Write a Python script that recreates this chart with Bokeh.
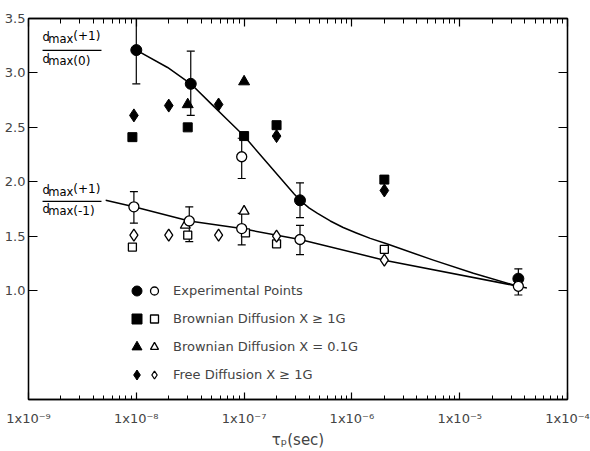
from bokeh.plotting import figure
from bokeh.models import (ColumnDataSource, FixedTicker, LogAxis, LinearAxis,
                          Range1d, Whisker, TeeHead, Legend, LegendItem, Label)
from bokeh.embed import file_html
from bokeh.resources import INLINE

FONT = "DejaVu Sans"

# ---- experimental points: d_max(+1)/d_max(0) (filled) ----
exp_hi_tau = [1.0e-8, 3.2e-8, 3.3e-7, 3.5e-5]
exp_hi_ratio = [3.21, 2.90, 1.83, 1.11]
exp_hi_upper = [3.50, 3.20, 1.99, 1.20]
exp_hi_lower = [2.90, 2.61, 1.67, 1.03]

# ---- experimental points drawn open ----
exp_lo_tau = [9.5e-9, 3.1e-8, 9.5e-8, 9.5e-8, 3.3e-7, 3.5e-5]
exp_lo_ratio = [1.77, 1.64, 2.23, 1.57, 1.47, 1.04]
exp_lo_upper = [1.91, 1.77, 2.40, 1.71, 1.60, 1.11]
exp_lo_lower = [1.62, 1.45, 2.03, 1.42, 1.33, 0.96]

# ---- Brownian diffusion X >= 1G ----
bd1_hi_tau = [9.2e-9, 3.0e-8, 1.0e-7, 2.0e-7, 2.0e-6]
bd1_hi_ratio = [2.41, 2.50, 2.42, 2.52, 2.02]
bd1_lo_tau = [9.2e-9, 3.0e-8, 1.03e-7, 2.0e-7, 2.0e-6]
bd1_lo_ratio = [1.40, 1.51, 1.53, 1.43, 1.38]

# ---- Brownian diffusion X = 0.1G ----
bd01_hi_tau = [3.0e-8, 1.0e-7]
bd01_hi_ratio = [2.71, 2.92]
bd01_lo_tau = [2.85e-8, 1.0e-7]
bd01_lo_ratio = [1.60, 1.73]

# ---- free diffusion X >= 1G ----
free_hi_tau = [9.5e-9, 2.0e-8, 5.8e-8, 2.0e-7, 2.0e-6]
free_hi_ratio = [2.61, 2.70, 2.71, 2.42, 1.92]
free_lo_tau = [9.5e-9, 2.0e-8, 5.8e-8, 2.0e-7, 2.0e-6]
free_lo_ratio = [1.51, 1.51, 1.51, 1.50, 1.28]

# ---- hand-drawn curves through the points ----
fit_hi_tau = [1.0e-8, 1.95e-8, 3.2e-8, 4.9e-8, 7.0e-8, 1.0e-7, 1.65e-7, 2.9e-7,
              3.3e-7, 4.0e-7, 4.8e-7, 6.3e-7, 8.3e-7, 1.1e-6, 1.48e-6, 2.1e-6,
              5.7e-6, 1.34e-5, 3.2e-5]
fit_hi_ratio = [3.21, 3.05, 2.90, 2.72, 2.57, 2.42, 2.17, 1.89,
                1.83, 1.76, 1.71, 1.64, 1.58, 1.53, 1.48, 1.43,
                1.28, 1.16, 1.05]
fit_lo_tau = [5.2e-9, 9.5e-9, 3.1e-8, 9.5e-8, 3.3e-7, 2.0e-6, 4.2e-5]
fit_lo_ratio = [1.83, 1.77, 1.64, 1.57, 1.47, 1.28, 1.025]

# ---- axes ----
x_decades = [1e-9, 1e-8, 1e-7, 1e-6, 1e-5, 1e-4]
x_tick_labels = ["1x10⁻⁹", "1x10⁻⁸", "1x10⁻⁷", "1x10⁻⁶", "1x10⁻⁵", "1x10⁻⁴"]
y_ticks = [1.0, 1.5, 2.0, 2.5, 3.0, 3.5]
y_tick_labels = ["1.0", "1.5", "2.0", "2.5", "3.0", "3.5"]

legend_labels = ["Experimental Points", "Brownian Diffusion X ≥ 1G",
                 "Brownian Diffusion X = 0.1G", "Free Diffusion X ≥ 1G"]

p = figure(width=590, height=451, x_axis_type="log",
           x_range=Range1d(1e-9, 1e-4), y_range=Range1d(0.0, 3.5),
           output_backend="svg", toolbar_location=None,
           min_border_left=28, min_border_right=23,
           min_border_top=18, min_border_bottom=51)
p.grid.visible = False
p.outline_line_color = "black"
p.outline_line_width = 1.3
p.background_fill_color = "white"
p.border_fill_color = "white"

minor_x = [d * k for d in x_decades[:-1] for k in range(2, 10)]
x_ticker = FixedTicker(ticks=x_decades, minor_ticks=minor_x)
y_ticker = FixedTicker(ticks=y_ticks)

xa = p.xaxis[0]
xa.ticker = x_ticker
xa.major_label_overrides = dict(zip(x_decades, x_tick_labels))
xa.major_tick_in, xa.major_tick_out = 7, 0
xa.minor_tick_in, xa.minor_tick_out = 4, 0
xa.major_label_standoff = 11
xa.major_label_text_font = FONT
xa.major_label_text_font_size = "13px"
xa.axis_label = "τₚ(sec)"
xa.axis_label_text_font = FONT
xa.axis_label_text_font_style = "normal"
xa.axis_label_text_font_size = "15px"
xa.axis_label_standoff = 2

ya = p.yaxis[0]
ya.ticker = y_ticker
ya.major_label_overrides = dict(zip(y_ticks, y_tick_labels))
ya.major_tick_in, ya.major_tick_out = 9, 0
ya.minor_tick_line_color = None
ya.major_label_standoff = 3
ya.major_label_text_font = FONT
ya.major_label_text_font_size = "13px"

# tick marks only on the top and right edges
top = LogAxis(ticker=x_ticker, major_label_text_font_size="2px",
              major_label_text_alpha=0,
              major_tick_in=8, major_tick_out=0, minor_tick_in=5, minor_tick_out=0,
              major_label_standoff=0)
right = LinearAxis(ticker=y_ticker, major_label_text_font_size="2px",
                   major_label_text_alpha=0,
                   major_tick_in=9, major_tick_out=0, minor_tick_line_color=None,
                   major_label_standoff=0)
p.add_layout(top, "above")
p.add_layout(right, "right")

for ax in [xa, ya, top, right]:
    ax.axis_line_width = 1.3
    ax.major_tick_line_width = 1.2
    ax.minor_tick_line_width = 1.0
    ax.axis_line_color = "black"

# ---- error bars ----
for tau, lo, hi in [(exp_hi_tau, exp_hi_lower, exp_hi_upper),
                    (exp_lo_tau, exp_lo_lower, exp_lo_upper)]:
    src = ColumnDataSource(dict(tau=tau, lower=lo, upper=hi))
    p.add_layout(Whisker(base="tau", lower="lower", upper="upper", source=src,
                         dimension="height", line_width=1.2, line_color="black",
                         upper_head=TeeHead(size=8, line_width=1.2),
                         lower_head=TeeHead(size=8, line_width=1.2)))

# ---- curves ----
p.line(fit_hi_tau, fit_hi_ratio, line_color="black", line_width=1.5,
       line_join="round")
p.line(fit_lo_tau, fit_lo_ratio, line_color="black", line_width=1.5,
       line_join="round")

# ---- markers ----
def filled(tau, ratio, marker, size):
    return p.scatter(tau, ratio, marker=marker, size=size,
                     fill_color="black", line_color="black", line_width=1)

def hollow(tau, ratio, marker, size):
    return p.scatter(tau, ratio, marker=marker, size=size,
                     fill_color="white", line_color="black", line_width=1.3)

r_bd1_f = filled(bd1_hi_tau, bd1_hi_ratio, "square", 9)
r_free_f = filled(free_hi_tau, free_hi_ratio, "diamond", 13)
r_bd01_f = filled(bd01_hi_tau, bd01_hi_ratio, "triangle", 11)
r_exp_f = filled(exp_hi_tau, exp_hi_ratio, "circle", 11)

r_bd1_o = hollow(bd1_lo_tau, bd1_lo_ratio, "square", 8)
r_free_o = hollow(free_lo_tau, free_lo_ratio, "diamond", 12)
r_bd01_o = hollow(bd01_lo_tau, bd01_lo_ratio, "triangle", 10)
r_exp_o = hollow(exp_lo_tau, exp_lo_ratio, "circle", 10)

# ---- legend: a column of filled symbols, then open symbols with text ----
filled_renderers = [r_exp_f, r_bd1_f, r_bd01_f, r_free_f]
open_renderers = [r_exp_o, r_bd1_o, r_bd01_o, r_free_o]

common = dict(padding=0, margin=0, spacing=3, glyph_height=25,
              border_line_color=None, background_fill_alpha=0,
              label_text_font=FONT, label_text_font_size="13px")
leg_a = Legend(items=[LegendItem(label="·", renderers=[r]) for r in filled_renderers],
               location=(96, 12), glyph_width=25, label_standoff=2, label_width=4,
               label_text_alpha=0, **common)
leg_b = Legend(items=[LegendItem(label=t, renderers=[r])
                      for t, r in zip(legend_labels, open_renderers)],
               location=(116, 12), glyph_width=20, label_standoff=9, **common)
p.add_layout(leg_a)
p.add_layout(leg_b)

# ---- ratio labels written as stacked fractions ----
def ratio_label(x0, y_num, y_den, num_tail, den_tail):
    pieces = [("d", 1.0, 0.0, "11.5px"), ("max", 1.13, -0.02, "11.5px")]
    for y, tail, dy_tail in [(y_num, num_tail, 0.01), (y_den, den_tail, -0.02)]:
        for txt, fx, dy, fs in pieces:
            p.add_layout(Label(x=x0 * fx, y=y + dy, text=txt, text_font=FONT,
                               text_font_size=fs, text_color="black"))
        p.add_layout(Label(x=x0 * 1.93, y=y + dy_tail, text=tail, text_font=FONT,
                           text_font_size="12px", text_color="black"))
    bar_y = (y_num + y_den) / 2 + 0.045
    p.segment(x0=[x0], y0=[bar_y], x1=[x0 * 3.52], y1=[bar_y],
              line_color="black", line_width=1.2)

ratio_label(1.35e-9, 3.263, 3.063, "(+1)", "(0)")
ratio_label(1.35e-9, 1.861, 1.69, "(+1)", "(-1)")

open("out.html", "w").write(file_html(p, INLINE))
